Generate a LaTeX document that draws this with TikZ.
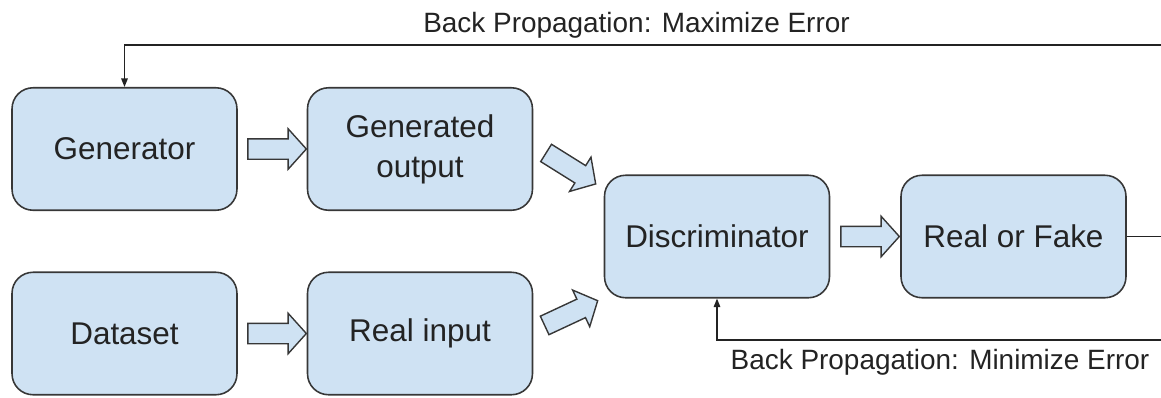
\documentclass[tikz,border=0pt]{standalone}
\usepackage{fontspec}
\setmainfont{Liberation Sans}
\usetikzlibrary{shapes.arrows,arrows.meta}

\definecolor{boxblue}{RGB}{207,226,243}
\definecolor{edgegray}{RGB}{55,55,55}
\definecolor{inkgray}{RGB}{35,35,35}

\tikzset{
  block/.style={draw=edgegray, line width=0.9pt, fill=boxblue,
    rounded corners=0.42cm, minimum width=4.5cm, minimum height=2.45cm,
    inner sep=0pt, align=center, text=inkgray,
    font=\fontsize{17.9}{22.8}\selectfont},
  fatarrow/.style={single arrow, draw=edgegray, line width=0.8pt,
    fill=boxblue, inner xsep=0pt, inner ysep=0.19cm, minimum height=1.17cm,
    single arrow head extend=0.2cm, single arrow tip angle=96},
  feedback/.style={draw=inkgray, line width=0.8pt,
    -{Triangle[length=0.17cm,width=0.13cm]}},
  bplabel/.style={text=inkgray, inner sep=0pt,
    font=\fontsize{15.9}{19}\selectfont}
}

\begin{document}
\begin{tikzpicture}[x=0.02cm, y=-0.02cm]
\useasboundingbox (0,0) rectangle (1161,397);

% boxes
\node[block] (gen)    at (124.5,149)   {Generator};
\node[block] (genout) at (420,149)     {Generated\\output};
\node[block] (data)   at (124.5,333.5) {Dataset};
\node[block] (realin) at (420,333.5)   {Real input};
\node[block] (disc)   at (717,236.5)   {Discriminator};
\node[block] (rof)    at (1013.5,236.5) {Real or Fake};

% hollow arrows between the boxes
\node[fatarrow] (a1) at (272.5,149) {};
\node[fatarrow] (a2) at (272.5,333.5) {};
\node[fatarrow, rotate=-32] (a3) at (567,166) {};
\node[fatarrow, rotate=25] (a4) at (567,315) {};
\node[fatarrow] (a5) at (865.5,236.5) {};

% feedback lines, running off the right edge
\coordinate (rtop) at (1162,45);
\coordinate (rmid) at (1162,236.5);
\coordinate (rbot) at (1162,340);
\draw[draw=inkgray, line width=0.8pt] (rof.east) -- (rmid);
\draw[feedback] (rtop) -| (gen.north);
\draw[feedback] (rbot) -| (disc.south);

\node[bplabel, anchor=base] (maxerr) at (636.5,32) {Back Propagation: Maximize Error};
\node[bplabel, anchor=base] (minerr) at (940,369) {Back Propagation: Minimize Error};
\end{tikzpicture}
\end{document}
